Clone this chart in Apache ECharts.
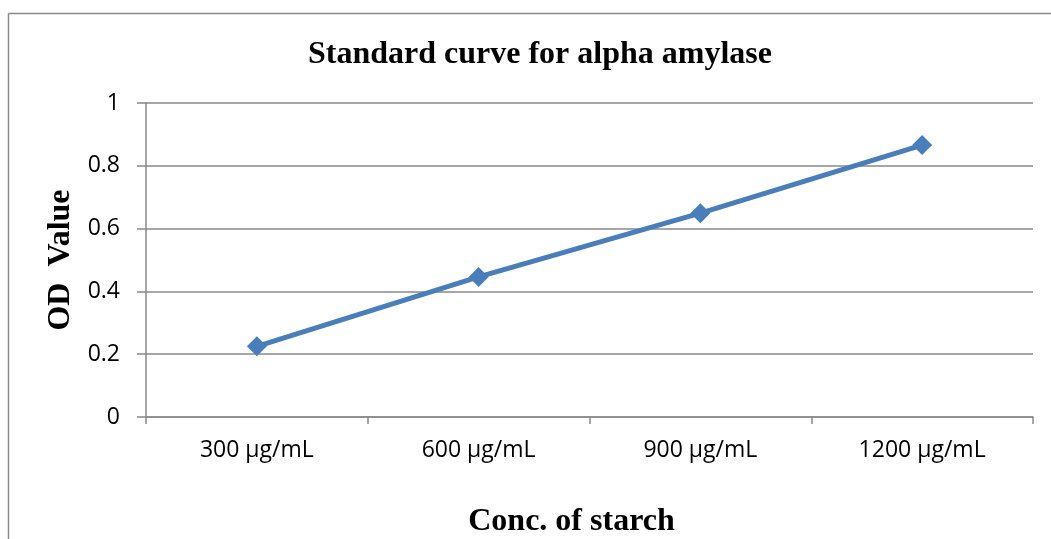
<!DOCTYPE html>
<html>
<head>
<meta charset="utf-8">
<script src="https://cdn.jsdelivr.net/npm/echarts@6/dist/echarts.min.js"></script>
<style>html,body{margin:0;padding:0;background:#fff;overflow:hidden}#c{width:1051px;height:539px}</style>
</head>
<body>
<div id="c"></div>
<script>
const categories = ['300 µg/mL', '600 µg/mL', '900 µg/mL', '1200 µg/mL'];
const odValues = [0.225, 0.446, 0.649, 0.866];
const yTicks = [0, 0.2, 0.4, 0.6, 0.8, 1];

const chart = echarts.init(document.getElementById('c'));
const gray = '#898989';
chart.setOption({
  animation: false,
  backgroundColor: '#fff',
  title: {
    text: 'Standard curve for alpha amylase',
    left: 303,
    top: 34,
    textStyle: {fontFamily: 'Liberation Serif', fontWeight: 'bold', fontSize: 32, color: '#000'}
  },
  graphic: [
    {type: 'line', shape: {x1: 8.5, y1: 13.5, x2: 8.5, y2: 539}, style: {stroke: gray, lineWidth: 1.5}},
    {type: 'line', shape: {x1: 8.5, y1: 13.5, x2: 1051, y2: 13.5}, style: {stroke: gray, lineWidth: 1.5}}
  ],
  grid: {left: 146, width: 887, top: 103, height: 314, containLabel: false, outerBoundsMode: 'none'},
  xAxis: {
    type: 'category',
    data: categories,
    boundaryGap: true,
    name: 'Conc. of starch',
    nameLocation: 'middle',
    nameGap: 89,
    nameTextStyle: {fontFamily: 'Liberation Serif', fontWeight: 'bold', fontSize: 32, color: '#000', padding: [0, 36, 0, 0]},
    axisLine: {lineStyle: {color: gray, width: 1.5}},
    axisTick: {show: true, length: 7, lineStyle: {color: gray, width: 1.5}},
    axisLabel: {fontFamily: 'Open Sans', fontSize: 23, color: '#000', margin: 22}
  },
  yAxis: {
    type: 'value',
    min: 0, max: 1, interval: 0.2,
    name: 'OD  Value',
    nameLocation: 'middle',
    nameGap: 69,
    nameTextStyle: {fontFamily: 'Liberation Serif', fontWeight: 'bold', fontSize: 32, color: '#000'},
    axisLine: {show: true, lineStyle: {color: gray, width: 1.5}},
    axisTick: {show: true, length: 9, lineStyle: {color: gray, width: 1.5}},
    splitLine: {lineStyle: {color: gray, width: 1.5}},
    axisLabel: {
      fontFamily: 'Open Sans', fontSize: 23, color: '#000', margin: 26,
      formatter: v => yTicks.includes(Math.round(v * 10) / 10) ? String(Math.round(v * 10) / 10) : ''
    }
  },
  series: [{
    type: 'line',
    data: odValues,
    symbol: 'diamond',
    symbolSize: 20,
    lineStyle: {color: '#4a7ebb', width: 5},
    itemStyle: {color: '#4a7ebb'}
  }]
});
</script>
</body>
</html>
